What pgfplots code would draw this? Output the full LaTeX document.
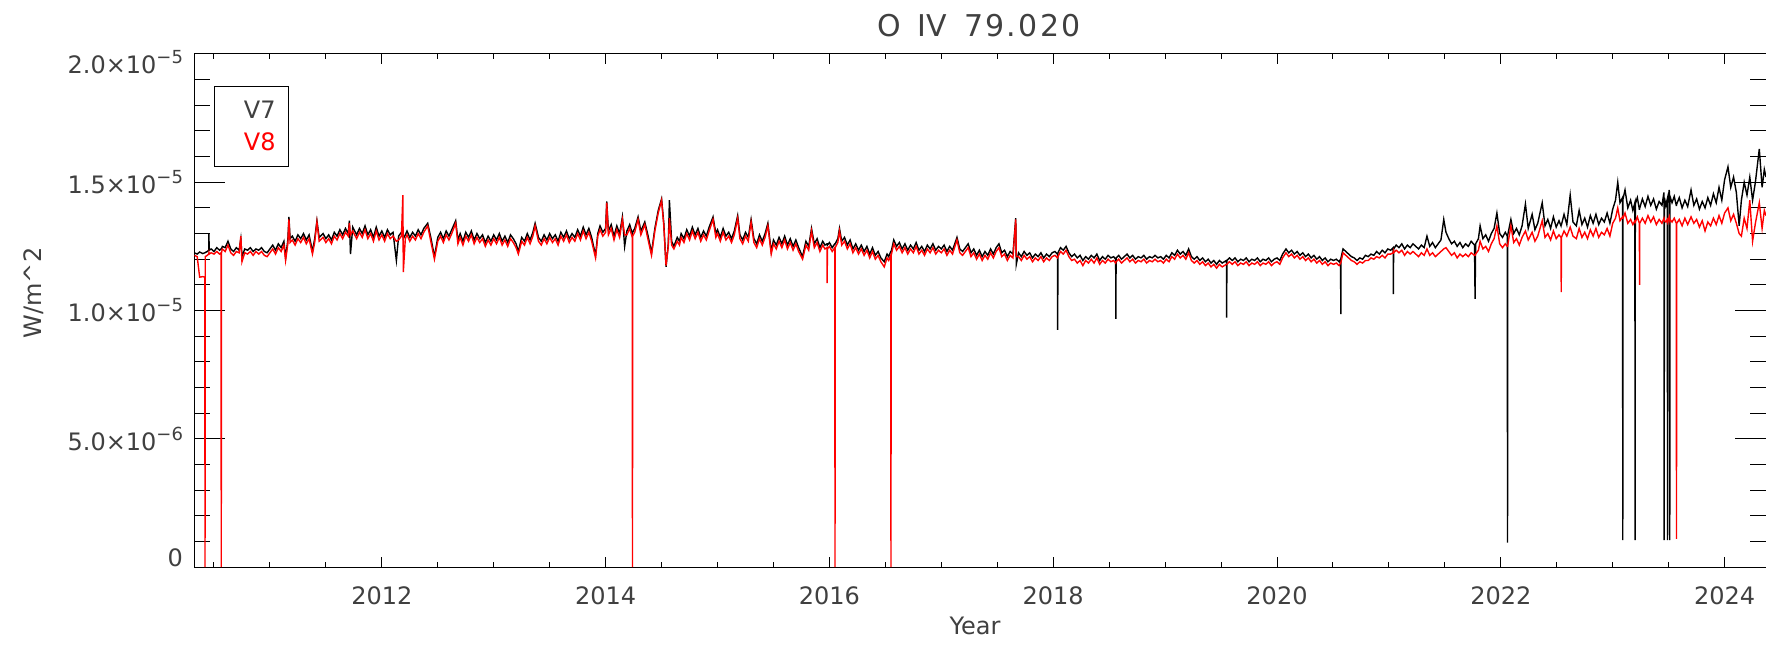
\documentclass[border=0pt]{standalone}
\usepackage{fontspec}
\setmainfont{DejaVu Sans}
\usepackage{pgfplots}
\usepackage{pgfplotstable}
\pgfplotsset{compat=1.18}
\usetikzlibrary{calc}

% values in units of 1e-6 W/m^2
\pgfplotstableread{
t v7 v8
2010.325 12.25 12.15
2010.350 12.20 12.10
2010.372 12.28 11.30
2010.400 12.22 11.32
2010.418 12.25 11.30
2010.420 12.25 0
2010.422 12.26 12.10
2010.440 12.30 12.15
2010.453 12.35 12.20
2010.455 13.00 12.25
2010.457 12.35 12.20
2010.475 12.40 12.25
2010.500 12.30 12.20
2010.525 12.45 12.30
2010.550 12.35 12.20
2010.563 12.40 12.25
2010.565 12.40 0
2010.567 12.40 12.25
2010.575 12.50 12.40
2010.600 12.45 12.30
2010.625 12.70 12.55
2010.650 12.40 12.25
2010.675 12.30 12.15
2010.700 12.45 12.30
2010.725 12.35 12.25
2010.740 12.80 12.90
2010.750 12.10 11.90
2010.775 12.40 12.25
2010.800 12.35 12.20
2010.825 12.45 12.30
2010.850 12.30 12.15
2010.875 12.40 12.30
2010.900 12.35 12.20
2010.925 12.45 12.30
2010.950 12.30 12.15
2010.975 12.25 12.10
2011.000 12.40 12.25
2011.025 12.55 12.40
2011.050 12.35 12.20
2011.075 12.60 12.45
2011.100 12.45 12.30
2011.125 12.70 12.55
2011.140 12.05 11.95
2011.160 12.75 12.60
2011.170 13.65 13.55
2011.180 12.80 12.65
2011.200 12.90 12.75
2011.225 12.70 12.55
2011.250 12.95 12.80
2011.275 12.80 12.65
2011.300 13.00 12.85
2011.325 12.75 12.60
2011.350 12.95 12.80
2011.380 12.30 12.20
2011.400 12.80 12.65
2011.420 13.50 13.45
2011.440 12.85 12.70
2011.475 13.00 12.85
2011.500 12.80 12.65
2011.525 12.95 12.80
2011.550 12.75 12.60
2011.575 13.05 12.90
2011.600 12.90 12.75
2011.625 13.15 13.00
2011.650 12.95 12.80
2011.675 13.20 13.05
2011.700 13.00 12.90
2011.710 13.50 13.40
2011.720 12.20 12.95
2011.740 13.25 13.10
2011.775 12.95 12.80
2011.800 13.20 13.05
2011.825 13.00 12.85
2011.850 13.30 13.15
2011.875 12.95 12.80
2011.900 13.15 13.00
2011.925 12.85 12.70
2011.950 13.25 13.10
2011.975 12.90 12.75
2012.000 13.10 12.95
2012.025 12.85 12.70
2012.050 13.15 13.00
2012.075 12.95 12.80
2012.100 13.05 12.90
2012.130 11.95 12.70
2012.150 12.90 12.75
2012.175 13.05 12.90
2012.188 12.95 14.50
2012.192 12.80 11.50
2012.210 12.95 12.80
2012.225 13.10 12.95
2012.250 12.85 12.70
2012.275 13.05 12.90
2012.300 12.90 12.75
2012.325 13.15 13.00
2012.350 12.95 12.80
2012.375 13.20 13.05
2012.410 13.40 13.30
2012.440 12.80 12.65
2012.470 12.10 12.00
2012.500 12.85 12.70
2012.525 13.05 12.90
2012.550 12.80 12.65
2012.575 13.10 12.95
2012.600 12.90 12.75
2012.625 13.15 13.00
2012.660 13.50 13.40
2012.680 12.75 12.60
2012.700 13.00 12.85
2012.725 12.70 12.55
2012.750 13.05 12.90
2012.775 12.85 12.70
2012.800 13.10 12.95
2012.825 12.75 12.60
2012.850 13.00 12.85
2012.875 12.80 12.65
2012.900 12.95 12.80
2012.925 12.65 12.50
2012.950 12.90 12.75
2012.975 12.70 12.55
2013.000 12.95 12.80
2013.025 12.75 12.60
2013.050 13.00 12.85
2013.075 12.70 12.55
2013.100 12.90 12.75
2013.125 12.65 12.50
2013.150 12.95 12.80
2013.175 12.80 12.65
2013.200 12.60 12.45
2013.220 12.30 12.20
2013.250 12.85 12.70
2013.275 12.70 12.55
2013.300 13.00 12.85
2013.325 12.75 12.60
2013.350 13.05 12.90
2013.370 13.40 13.30
2013.400 12.85 12.70
2013.425 12.70 12.55
2013.450 12.95 12.80
2013.475 12.75 12.60
2013.500 13.00 12.85
2013.525 12.80 12.65
2013.550 12.95 12.80
2013.575 12.70 12.55
2013.600 13.05 12.90
2013.625 12.85 12.70
2013.650 13.10 12.95
2013.675 12.80 12.65
2013.700 13.00 12.85
2013.725 12.85 12.70
2013.750 13.15 13.00
2013.775 12.90 12.75
2013.800 13.25 13.10
2013.825 12.95 12.80
2013.850 13.20 13.05
2013.875 12.85 12.70
2013.910 12.15 12.05
2013.930 13.00 12.90
2013.950 13.30 13.15
2013.975 13.05 12.90
2014.000 13.20 13.05
2014.010 14.25 14.20
2014.025 13.10 12.95
2014.050 13.35 13.20
2014.075 12.90 12.75
2014.100 13.30 13.15
2014.125 13.00 12.85
2014.150 13.65 13.55
2014.170 12.50 12.95
2014.190 13.10 12.95
2014.215 13.35 13.20
2014.238 13.00 12.85
2014.240 13.05 0
2014.242 13.05 12.90
2014.260 13.20 13.05
2014.290 13.65 13.55
2014.315 13.10 12.95
2014.350 13.45 13.35
2014.380 12.90 12.75
2014.410 12.25 12.15
2014.440 13.20 13.10
2014.470 13.90 13.80
2014.500 14.35 14.30
2014.520 13.40 13.30
2014.540 11.70 11.75
2014.560 12.60 12.50
2014.570 14.30 13.60
2014.590 12.70 12.55
2014.610 12.50 12.40
2014.640 12.85 12.70
2014.660 12.70 12.55
2014.675 13.00 12.85
2014.700 12.80 12.65
2014.725 13.15 13.00
2014.750 12.90 12.75
2014.775 13.25 13.10
2014.800 12.95 12.80
2014.825 13.20 13.05
2014.850 12.85 12.70
2014.875 13.10 12.95
2014.900 12.90 12.75
2014.925 13.25 13.10
2014.960 13.65 13.55
2014.985 13.00 12.85
2015.000 13.15 13.00
2015.025 12.85 12.70
2015.050 13.20 13.05
2015.075 12.90 12.75
2015.100 13.05 12.90
2015.125 12.80 12.65
2015.150 13.10 12.95
2015.180 13.70 13.60
2015.200 12.95 12.80
2015.225 12.75 12.60
2015.250 13.05 12.90
2015.275 12.85 12.70
2015.300 13.55 13.45
2015.325 12.80 12.65
2015.350 12.60 12.45
2015.375 12.95 12.80
2015.400 12.70 12.55
2015.425 13.00 12.85
2015.450 13.40 13.30
2015.480 12.30 12.20
2015.500 12.75 12.60
2015.525 12.55 12.40
2015.550 12.85 12.70
2015.575 12.60 12.45
2015.600 12.90 12.75
2015.625 12.55 12.40
2015.650 12.80 12.65
2015.675 12.50 12.35
2015.700 12.75 12.60
2015.725 12.45 12.30
2015.760 12.10 12.00
2015.790 12.70 12.55
2015.815 12.50 12.35
2015.840 13.20 13.10
2015.865 12.60 12.45
2015.890 12.80 12.65
2015.915 12.45 12.30
2015.940 12.70 12.55
2015.960 12.55 12.40
2015.978 12.60 12.45
2015.980 12.60 11.07
2015.982 12.55 12.40
2016.000 12.65 12.50
2016.025 12.45 12.30
2016.048 12.60 12.45
2016.050 12.60 0
2016.052 12.60 12.45
2016.075 12.80 12.65
2016.090 13.20 13.10
2016.110 12.70 12.55
2016.135 12.85 12.70
2016.160 12.55 12.40
2016.185 12.75 12.60
2016.210 12.40 12.25
2016.235 12.60 12.45
2016.260 12.35 12.20
2016.285 12.55 12.40
2016.310 12.30 12.15
2016.335 12.50 12.35
2016.360 12.20 12.05
2016.385 12.45 12.30
2016.410 12.15 12.00
2016.435 12.30 12.15
2016.460 12.05 11.90
2016.490 11.90 11.70
2016.515 12.20 12.05
2016.530 12.10 11.95
2016.548 12.30 12.15
2016.550 12.30 0
2016.552 12.30 12.15
2016.575 12.75 12.60
2016.600 12.50 12.35
2016.625 12.65 12.50
2016.650 12.40 12.25
2016.675 12.60 12.45
2016.700 12.35 12.20
2016.725 12.55 12.40
2016.750 12.40 12.25
2016.775 12.65 12.50
2016.800 12.35 12.20
2016.825 12.50 12.35
2016.850 12.30 12.15
2016.875 12.55 12.40
2016.900 12.40 12.25
2016.925 12.60 12.45
2016.950 12.35 12.20
2016.975 12.50 12.35
2017.000 12.40 12.25
2017.025 12.55 12.40
2017.050 12.30 12.15
2017.075 12.50 12.35
2017.100 12.35 12.20
2017.140 12.85 12.75
2017.165 12.40 12.25
2017.190 12.30 12.15
2017.215 12.45 12.30
2017.240 12.60 12.45
2017.265 12.25 12.10
2017.290 12.40 12.25
2017.315 12.15 12.00
2017.340 12.35 12.20
2017.365 12.10 11.95
2017.390 12.30 12.15
2017.415 12.15 12.00
2017.440 12.40 12.25
2017.465 12.20 12.05
2017.490 12.45 12.30
2017.515 12.60 12.45
2017.540 12.25 12.10
2017.565 12.35 12.20
2017.590 12.10 11.95
2017.615 12.30 12.15
2017.640 12.20 12.05
2017.665 13.60 13.55
2017.670 11.80 12.10
2017.690 12.25 12.10
2017.715 12.10 11.95
2017.740 12.30 12.15
2017.765 12.15 12.00
2017.790 12.25 12.10
2017.815 12.05 11.90
2017.840 12.20 12.05
2017.865 12.10 11.95
2017.890 12.25 12.10
2017.915 12.05 11.90
2017.940 12.20 12.05
2017.965 12.10 11.95
2017.990 12.25 12.10
2018.015 12.30 12.15
2018.038 12.20 12.05
2018.040 9.24 12.10
2018.042 12.25 12.10
2018.065 12.45 12.30
2018.090 12.35 12.20
2018.115 12.50 12.35
2018.140 12.25 12.10
2018.165 12.10 11.95
2018.190 12.20 12.00
2018.215 12.05 11.85
2018.240 12.15 11.95
2018.265 11.95 11.75
2018.290 12.10 11.95
2018.315 12.00 11.85
2018.340 12.15 12.00
2018.365 12.05 11.85
2018.390 12.20 12.05
2018.415 11.95 11.80
2018.440 12.10 11.95
2018.465 12.00 11.85
2018.490 12.15 12.00
2018.515 12.05 11.90
2018.540 12.10 11.95
2018.558 12.00 11.85
2018.560 9.67 11.90
2018.562 12.05 11.90
2018.585 12.15 12.00
2018.610 12.00 11.85
2018.635 12.10 11.95
2018.660 12.20 12.05
2018.685 12.05 11.90
2018.710 12.15 12.00
2018.735 12.00 11.85
2018.760 12.10 11.95
2018.785 12.05 11.90
2018.810 12.15 12.00
2018.835 12.00 11.85
2018.860 12.10 11.95
2018.885 12.05 11.90
2018.910 12.15 12.00
2018.935 12.05 11.90
2018.960 12.10 11.95
2018.985 12.00 11.85
2019.010 12.15 12.00
2019.035 12.05 11.90
2019.060 12.25 12.10
2019.085 12.15 12.00
2019.110 12.35 12.20
2019.135 12.20 12.05
2019.160 12.30 12.15
2019.185 12.15 12.00
2019.210 12.40 12.25
2019.235 12.10 11.95
2019.260 12.00 11.85
2019.285 12.10 11.95
2019.310 11.95 11.80
2019.335 12.05 11.90
2019.360 11.90 11.75
2019.385 12.00 11.85
2019.410 11.85 11.70
2019.435 11.95 11.80
2019.460 11.80 11.65
2019.485 11.95 11.80
2019.510 11.85 11.70
2019.548 11.95 11.80
2019.550 9.72 11.80
2019.552 11.95 11.80
2019.575 12.05 11.90
2019.600 11.95 11.80
2019.625 12.05 11.90
2019.650 11.90 11.75
2019.675 12.00 11.85
2019.700 11.95 11.80
2019.725 12.05 11.90
2019.750 11.90 11.75
2019.775 12.00 11.85
2019.800 11.95 11.80
2019.825 12.05 11.90
2019.850 11.90 11.75
2019.875 12.00 11.85
2019.900 11.95 11.80
2019.925 12.05 11.90
2019.950 11.90 11.75
2019.975 12.00 11.85
2020.000 12.05 11.90
2020.025 11.95 11.80
2020.050 12.20 12.05
2020.080 12.40 12.25
2020.105 12.25 12.10
2020.130 12.35 12.20
2020.155 12.20 12.05
2020.180 12.30 12.15
2020.205 12.15 12.00
2020.230 12.25 12.10
2020.255 12.10 11.95
2020.280 12.20 12.05
2020.305 12.05 11.90
2020.330 12.15 12.00
2020.355 12.00 11.85
2020.380 12.10 11.95
2020.405 11.95 11.80
2020.430 12.05 11.90
2020.455 11.90 11.75
2020.480 12.00 11.85
2020.505 11.95 11.80
2020.530 12.00 11.85
2020.555 11.90 11.75
2020.568 12.00 11.85
2020.570 9.86 11.85
2020.572 12.05 11.90
2020.590 12.40 12.25
2020.615 12.30 12.15
2020.640 12.20 12.05
2020.665 12.10 11.95
2020.690 12.05 11.90
2020.715 11.95 11.80
2020.740 12.05 11.90
2020.765 12.00 11.85
2020.790 12.15 11.95
2020.815 12.10 11.95
2020.840 12.20 12.05
2020.865 12.15 12.00
2020.890 12.30 12.10
2020.915 12.20 12.05
2020.940 12.35 12.15
2020.965 12.25 12.05
2020.990 12.40 12.20
2021.015 12.35 12.20
2021.038 12.45 12.25
2021.040 10.64 12.30
2021.042 12.40 12.25
2021.065 12.55 12.35
2021.090 12.45 12.25
2021.115 12.60 12.35
2021.140 12.40 12.15
2021.165 12.55 12.30
2021.190 12.45 12.20
2021.215 12.60 12.30
2021.240 12.50 12.20
2021.265 12.40 12.10
2021.290 12.55 12.25
2021.315 12.45 12.15
2021.340 12.90 12.40
2021.365 12.50 12.15
2021.390 12.65 12.25
2021.415 12.45 12.10
2021.440 12.60 12.20
2021.465 12.75 12.30
2021.490 13.55 12.40
2021.510 13.05 12.45
2021.535 12.80 12.30
2021.560 12.60 12.15
2021.585 12.70 12.25
2021.610 12.50 12.05
2021.635 12.65 12.20
2021.660 12.45 12.10
2021.685 12.60 12.20
2021.710 12.50 12.10
2021.735 12.70 12.25
2021.765 12.55 12.15
2021.770 10.45 12.15
2021.775 12.60 12.20
2021.800 12.80 12.35
2021.815 13.30 12.70
2021.840 12.80 12.40
2021.865 12.95 12.50
2021.890 12.70 12.30
2021.915 13.00 12.60
2021.940 13.20 12.80
2021.965 13.80 13.30
2021.990 13.00 12.60
2022.015 12.85 12.45
2022.040 13.05 12.60
2022.058 12.90 12.50
2022.060 0.95 12.50
2022.062 12.95 12.55
2022.090 13.55 13.30
2022.115 13.00 12.65
2022.140 13.20 12.80
2022.165 12.95 12.55
2022.190 13.30 12.85
2022.220 14.15 13.10
2022.245 13.20 12.75
2022.280 13.75 13.05
2022.305 13.15 12.70
2022.330 13.40 12.90
2022.370 14.20 13.50
2022.395 13.30 12.85
2022.420 13.55 13.00
2022.445 13.20 12.75
2022.470 13.65 13.10
2022.495 13.25 12.80
2022.520 13.50 12.95
2022.538 13.30 12.85
2022.540 13.35 10.72
2022.542 13.35 12.85
2022.565 13.75 13.10
2022.590 13.35 12.90
2022.620 14.50 13.25
2022.645 13.45 12.90
2022.675 13.30 12.80
2022.700 13.90 13.20
2022.725 13.35 12.85
2022.750 13.60 13.05
2022.775 13.25 12.80
2022.800 13.70 13.15
2022.825 13.40 12.90
2022.850 13.75 13.20
2022.875 13.35 12.85
2022.900 13.60 13.05
2022.925 13.45 12.95
2022.950 13.80 13.20
2022.975 13.40 12.90
2023.000 13.95 13.40
2023.025 14.30 13.60
2023.045 15.00 14.00
2023.065 14.20 13.50
2023.088 14.40 13.65
2023.090 1.05 13.60
2023.092 14.35 13.60
2023.110 14.70 13.80
2023.135 14.00 13.40
2023.160 14.30 13.55
2023.180 13.90 13.35
2023.198 14.20 13.50
2023.200 1.05 13.50
2023.202 14.15 13.45
2023.220 14.40 13.65
2023.238 13.95 13.40
2023.240 13.95 11.00
2023.242 14.00 13.40
2023.265 14.35 13.60
2023.290 14.05 13.40
2023.315 14.45 13.70
2023.340 14.10 13.45
2023.365 14.35 13.65
2023.390 13.95 13.35
2023.415 14.25 13.55
2023.440 14.10 13.40
2023.458 14.60 13.60
2023.460 1.05 13.55
2023.462 14.40 13.50
2023.475 14.10 13.45
2023.488 14.35 13.55
2023.490 1.05 13.50
2023.492 14.20 13.45
2023.505 14.70 13.65
2023.508 14.50 13.55
2023.510 1.05 13.50
2023.512 14.45 13.55
2023.530 14.20 13.45
2023.550 14.45 13.60
2023.568 14.10 13.40
2023.570 14.10 1.10
2023.572 14.15 13.40
2023.595 14.40 13.55
2023.620 14.00 13.30
2023.645 14.30 13.60
2023.670 14.05 13.35
2023.700 14.70 13.65
2023.725 14.10 13.40
2023.750 14.35 13.55
2023.775 13.95 13.25
2023.800 14.25 13.50
2023.825 14.00 13.10
2023.850 14.40 13.45
2023.875 14.10 13.30
2023.900 14.55 13.60
2023.925 14.20 13.35
2023.950 14.80 13.70
2023.975 14.30 13.40
2024.000 15.10 13.80
2024.030 15.60 14.00
2024.055 14.80 13.50
2024.080 15.20 13.75
2024.105 14.60 13.40
2024.130 13.30 13.00
2024.150 14.30 12.90
2024.175 15.00 13.60
2024.200 14.50 13.20
2024.225 15.20 14.30
2024.250 14.30 12.70
2024.275 15.00 13.40
2024.310 16.30 14.20
2024.335 14.80 13.20
2024.355 15.50 13.90
2024.370 15.20 13.70
}\datatable

\begin{document}
\begin{tikzpicture}
\begin{axis}[
  name=ax,
  at={(0,0)}, anchor=south west,
  scale only axis,
  width=785.8pt, height=256.5pt,
  xmin=2010.325, xmax=2024.37,
  ymin=0, ymax=20,
  axis line style={line width=0.5pt, black},
  xtick={2012,2014,2016,2018,2020,2022,2024},
  xticklabels={2012,2014,2016,2018,2020,2022,2024},
  minor xtick={2010.5,2011,...,2024},
  ytick={0,5,10,15,20},
  yticklabels={
    \raisebox{4.7pt}[\height][\depth]{0},
    5.0×10\raisebox{5pt}{\fontsize{9}{9}\selectfont −6},
    1.0×10\raisebox{5pt}{\fontsize{9}{9}\selectfont −5},
    1.5×10\raisebox{5pt}{\fontsize{9}{9}\selectfont −5},
    \raisebox{-4pt}[\height][\depth]{2.0×10\raisebox{5pt}{\fontsize{9}{9}\selectfont −5}}},
  minor ytick={1,2,3,4,6,7,8,9,11,12,13,14,16,17,18,19},
  tick align=inside,
  every tick/.style={black, line width=0.5pt},
  x tick style={/pgfplots/major tick length=5pt, /pgfplots/minor tick length=2.5pt},
  y tick style={/pgfplots/major tick length=15.5pt, /pgfplots/minor tick length=8pt},
  tick label style={font=\fontsize{12}{14}\selectfont, text=black!75},
  xticklabel style={anchor=center, yshift=-14.5pt},
  yticklabel style={anchor=east, inner sep=0pt, xshift=-5.5pt},
]
\addplot[black, line width=0.7pt] table[x=t, y=v7] {\datatable};
\addplot[red, line width=0.7pt] table[x=t, y=v8] {\datatable};
\end{axis}
% title, axis labels, legend
\node[font=\fontsize{15}{18}\selectfont, text=black!75, inner sep=0pt]
  at ($(ax.south west)+(392.3pt,270.7pt)$) {O\hspace{8.5pt}IV\hspace{8.5pt}{\addfontfeature{LetterSpace=8}79.020}};
\node[font=\fontsize{12}{14}\selectfont, text=black!75, inner sep=0pt]
  at ($(ax.south west)+(390.3pt,-29.5pt)$) {Year};
\node[font=\fontsize{12}{14}\selectfont, text=black!75, inner sep=0pt, rotate=90]
  at ($(ax.south west)+(-80.2pt,137pt)$) {W/m\textasciicircum 2};
\draw[line width=0.5pt, black] ($(ax.south west)+(10pt,200.2pt)$) rectangle ($(ax.south west)+(47.2pt,240.2pt)$);
\node[anchor=east, inner sep=0pt, font=\fontsize{12}{14}\selectfont, text=black!75]
  at ($(ax.south west)+(40.8pt,228.75pt)$) {V7};
\node[anchor=east, inner sep=0pt, font=\fontsize{12}{14}\selectfont, text=red]
  at ($(ax.south west)+(40.8pt,212.65pt)$) {V8};
\pgfresetboundingbox
\path ($(ax.south west)+(-97.2pt,-40.5pt)$) rectangle ($(ax.south west)+(785.8pt,283.5pt)$);
\end{tikzpicture}
\end{document}
